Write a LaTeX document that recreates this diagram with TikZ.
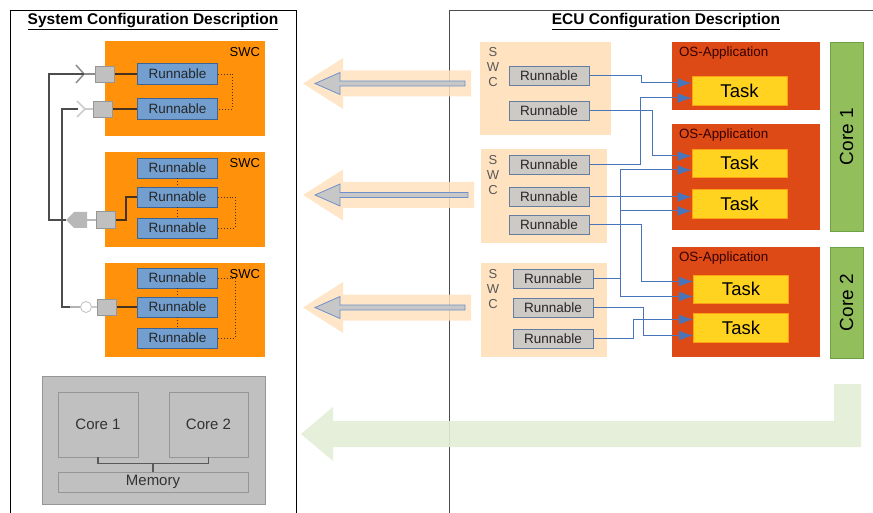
\documentclass[tikz,border=0pt]{standalone}
\usepackage{fontspec}
\setmainfont{Liberation Sans}
\usetikzlibrary{arrows.meta}

\definecolor{swcorange}{RGB}{255,146,10}
\definecolor{runblue}{RGB}{114,159,207}
\definecolor{runedge}{RGB}{62,100,150}
\definecolor{ecurun}{RGB}{205,201,197}
\definecolor{ecuedge}{RGB}{100,125,160}
\definecolor{peach}{RGB}{255,226,192}
\definecolor{osred}{RGB}{222,74,22}
\definecolor{taskyel}{RGB}{255,211,32}
\definecolor{taskedge}{RGB}{255,160,20}
\definecolor{coregreen}{RGB}{146,190,92}
\definecolor{coreedge}{RGB}{110,160,70}
\definecolor{lightgreen}{RGB}{226,237,213}
\definecolor{wireblue}{RGB}{72,116,188}
\definecolor{hwgray}{RGB}{192,192,192}
\definecolor{hwedge}{RGB}{150,150,150}
\definecolor{wirebrown}{RGB}{70,50,30}

\begin{document}
\begin{tikzpicture}[x=1pt,y=-1pt,
  every node/.style={inner sep=0pt},
  swc/.style={fill=swcorange,minimum width=160pt,minimum height=95pt},
  run/.style={fill=runblue,draw=runedge,line width=0.8pt,minimum width=80pt,minimum height=20pt,
    font=\fontsize{13.5}{15}\selectfont,text=black!85},
  erun/.style={run,fill=ecurun,draw=ecuedge,minimum height=19pt},
  port/.style={fill=hwgray,draw=hwedge,line width=0.6pt,minimum width=19pt,minimum height=16pt},
  hw/.style={fill=hwgray,draw=hwedge,line width=0.8pt,font=\fontsize{15}{18}\selectfont,text=black!80},
  ecuswc/.style={fill=peach,minimum width=126pt,minimum height=94pt},
  osapp/.style={fill=osred,minimum width=148pt},
  task/.style={fill=taskyel,draw=taskedge,line width=0.8pt,minimum width=95pt,minimum height=29pt,
    font=\fontsize{18.5}{20}\selectfont},
  core/.style={fill=coregreen,draw=coreedge,line width=0.8pt,rotate=90,minimum height=33pt,
    font=\fontsize{19}{21}\selectfont},
  wire/.style={draw=wireblue,line width=1pt,-{Latex[length=14pt,width=10pt]}},
  link/.style={draw=wirebrown,line width=1.3pt},
  dots/.style={draw=wirebrown,line width=0.9pt,dotted},
  title/.style={font=\bfseries\fontsize{15.5}{18}\selectfont}
]
\useasboundingbox (0,0) rectangle (873,513);

% frames
\draw[line width=0.9pt] (10,520) -- (10,10) -- (296,10) -- (296,520);
\draw[line width=0.9pt,black!70] (449,520) -- (449,10) -- (880,10);
\node[title] (systitle) at (153,22) {\underline{System Configuration Description}};
\node[title] (ecutitle) at (666,22) {\underline{ECU Configuration Description}};

% system side: SWCs
\node[swc] (swc1) at (185,88.5) {};
\node[swc] (swc2) at (185,199.5) {};
\node[swc,minimum height=94pt] (swc3) at (185,310) {};
\node[anchor=north east,font=\fontsize{13}{15}\selectfont] at ([xshift=-5pt,yshift=-6pt]swc1.north east) {SWC};
\node[anchor=north east,font=\fontsize{13}{15}\selectfont] at ([xshift=-5pt,yshift=-6pt]swc2.north east) {SWC};
\node[anchor=north east,font=\fontsize{13}{15}\selectfont] at ([xshift=-5pt,yshift=-6pt]swc3.north east) {SWC};

\node[run,minimum height=21pt] (r11) at (177.5,74) {Runnable};
\node[run,minimum height=21pt] (r12) at (177.5,109) {Runnable};
\node[run] (r21) at (177.5,168) {Runnable};
\node[run] (r22) at (177.5,197) {Runnable};
\node[run] (r23) at (177.5,228) {Runnable};
\node[run] (r31) at (177.5,278) {Runnable};
\node[run] (r32) at (177.5,307) {Runnable};
\node[run] (r33) at (177.5,338) {Runnable};

\draw[dots] (r11.east) -- (232,74) -- (232,109) -- (r12.east);
\draw[dots] (r21.south) -- (r22.north);
\draw[dots] (r22.south) -- (r23.north);
\draw[dots] (r22.east) -- (235,197) -- (235,228) -- (r23.east);
\draw[dots] (r31.south) -- (r32.north);
\draw[dots] (r32.south) -- (r33.north);
\draw[dots] (r31.east) -- (235,278) -- (235,338) -- (r33.east);

% ports
\node[port] (p1) at (105,74) {};
\node[port] (p2) at (103,109) {};
\node[port,minimum height=17pt] (p3) at (106,220) {};
\node[port] (p4) at (107,307) {};
\draw[link] (p1.east) -- (r11.west);
\draw[link] (p2.east) -- (r12.west);
\draw[link] (p3.east) -- (126,220) -- (126,197) -- (r22.west);
\draw[link] (p4.east) -- (r32.west);

% interfaces
\coordinate (f1) at (84,74);
\coordinate (f2) at (85,109);
\draw[black!45,line width=2pt] (f1) -- (p1.west);
\draw[black!45,line width=1.5pt] (76,65) -- (f1) -- (76,83);
\draw[black!20,line width=2pt] (f2) -- (p2.west);
\draw[black!20,line width=1.5pt] (77,101) -- (f2) -- (77,117);
\fill[black!28] (66,220) -- (74,212) -- (87,212) -- (87,228) -- (74,228) -- cycle;
\draw[black!28,line width=2pt] (87,220) -- (p3.west);
\draw[black!20,line width=2pt] (91.5,307) -- (p4.west);
\draw[black!70,line width=1.1pt] (f1) -- (49,74) -- (49,220) -- (66,220);
\draw[black!70,line width=1.1pt] (78,109) -- (62,109) -- (62,307) -- (70,307);
\draw[black!30,line width=1.1pt] (70,307) -- (80.5,307);
\draw[fill=white,draw=black!25,line width=0.8pt] (86,307) circle (5.5);

% hardware
\node[hw,minimum width=223pt,minimum height=128pt] (ecu) at (153.5,440) {};
\node[hw,minimum width=80pt,minimum height=65pt] (c1) at (98,424.5) {Core 1};
\node[hw,minimum width=79pt,minimum height=65pt] (c2) at (208.5,424.5) {Core 2};
\node[hw,minimum width=190pt,minimum height=20pt] (mem) at (153,482) {Memory};
\draw[black!65,line width=1.1pt] (c1.south) -- ++(0,6) -| (c2.south);
\draw[black!65,line width=1.1pt] (153,463) -- (mem.north);

% ECU side: SWCs
\node[ecuswc,minimum width=131pt,minimum height=93pt] (sa) at (545.5,88.5) {};
\node[ecuswc] (sb) at (544,196) {};
\node[ecuswc] (sc) at (544,310) {};
\node[align=center,font=\fontsize{13}{15}\selectfont,text=black!65] at (493,67) {S\\W\\C};
\node[align=center,font=\fontsize{13}{15}\selectfont,text=black!65] at (493,175) {S\\W\\C};
\node[align=center,font=\fontsize{13}{15}\selectfont,text=black!65] at (493,289) {S\\W\\C};

\node[erun] (ra1) at (549,76) {Runnable};
\node[erun] (ra2) at (549,111) {Runnable};
\node[erun] (rb1) at (549,164.5) {Runnable};
\node[erun] (rb2) at (549,197) {Runnable};
\node[erun] (rb3) at (549,225) {Runnable};
\node[erun] (rc1) at (553,278.5) {Runnable};
\node[erun] (rc2) at (553,307.5) {Runnable};
\node[erun] (rc3) at (553,338.5) {Runnable};

% OS-Applications
\node[osapp,minimum height=68pt] (o1) at (746,76) {};
\node[osapp,minimum height=106pt] (o2) at (746,177) {};
\node[osapp,minimum height=110pt] (o3) at (746,302) {};
\foreach \o in {o1,o2,o3}
  \node[anchor=north west,font=\fontsize{13.4}{15}\selectfont,text=black!80!red] at ([xshift=7pt,yshift=-5pt]\o.north west) {OS-Application};

\node[task] (t1) at (739.5,90.5) {Task};
\node[task,minimum height=28pt] (t21) at (739.5,163) {Task};
\node[task] (t22) at (739.5,204) {Task};
\node[task,minimum height=28pt] (t31) at (741,289) {Task};
\node[task] (t32) at (741,327.5) {Task};

\node[core,minimum width=189pt] (k1) at (846.5,136.5) {Core 1};
\node[core,minimum width=111pt] (k2) at (846.5,302.5) {Core 2};

% runnable to task mapping
\draw[wire] (ra1.east) -- ++(52,0) |- ([yshift=7.5pt]t1.west);
\draw[wire] (rb1.east) -- ++(51,0) |- ([yshift=-7.5pt]t1.west);
\draw[wire] (ra2.east) -- ++(63,0) |- ([yshift=7pt]t21.west);
\draw[wire] (rc1.east) -- ++(27,0) |- ([yshift=-7pt]t21.west);
\draw[wire] (rc1.east) -- ++(27,0) |- ([yshift=-7pt]t22.west);
\draw[wire] (rc1.east) -- ++(27,0) |- ([yshift=-7.5pt]t31.west);
\draw[wire] (rb2.east) -- (rb2.east -| t22.west);
\draw[wire] (rb3.east) -- ++(52,0) |- ([yshift=7.5pt]t31.west);
\draw[wire] (rc2.east) -- ++(50,0) |- ([yshift=-8pt]t32.west);
\draw[wire] (rc3.east) -- ++(40,0) |- ([yshift=8pt]t32.west);

% generation arrows
\foreach \c/\e in {83.5/471,195/474,307.5/471} {
  \fill[peach,opacity=0.85] (303,\c) -- (343,\c-25.5) -- (343,\c-13) -- (\e,\c-13) -- (\e,\c+13)
    -- (343,\c+13) -- (343,\c+25.5) -- cycle;
  \filldraw[fill=black!22,draw=wireblue!80,line width=0.8pt] (315,\c) -- (340,\c-11) -- (340,\c-2.5)
    -- (\e-6,\c-2.5) -- (\e-6,\c+2.5) -- (340,\c+2.5) -- (340,\c+11) -- cycle;
}
\fill[lightgreen,opacity=0.9] (301,434) -- (333,407) -- (333,421) -- (834,421) -- (834,384) -- (861,384)
  -- (861,447) -- (333,447) -- (333,461) -- cycle;
\end{tikzpicture}
\end{document}
